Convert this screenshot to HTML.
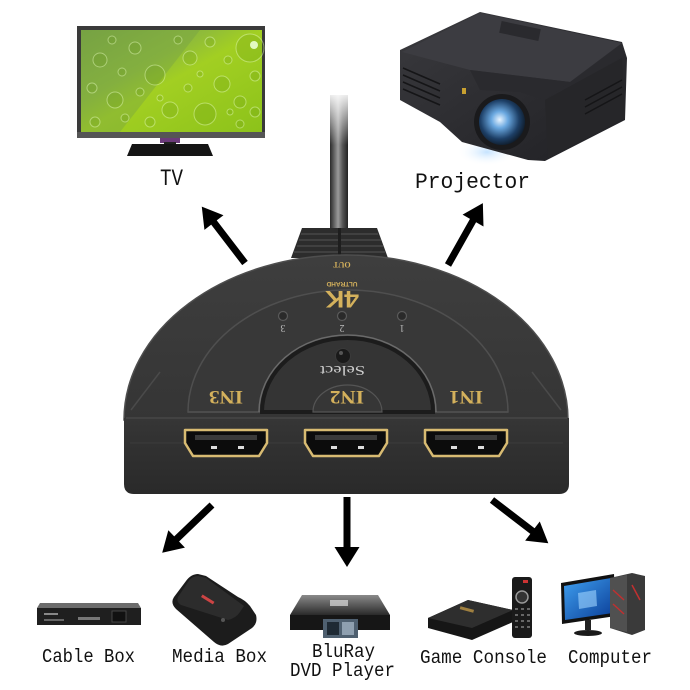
<!DOCTYPE html>
<html><head><meta charset="utf-8"><style>
html,body{margin:0;padding:0;background:#fff;}
svg{display:block;}
.lbl{font-family:"Liberation Mono",monospace;fill:#111;}
.dev{font-family:"Liberation Serif",serif;fill:#d4b15c;}
</style></head><body>
<svg width="690" height="690" viewBox="0 0 690 690" xmlns="http://www.w3.org/2000/svg">
<defs>
<linearGradient id="scr" x1="0" y1="0" x2="1" y2="1">
<stop offset="0" stop-color="#7aa640"/><stop offset="0.35" stop-color="#8fbb3a"/><stop offset="0.5" stop-color="#a2cf22"/><stop offset="1" stop-color="#8cc21a"/>
</linearGradient>
<linearGradient id="cab" x1="0" y1="0" x2="1" y2="0">
<stop offset="0" stop-color="#2a2a2a"/><stop offset="0.45" stop-color="#9a9a9a"/><stop offset="0.7" stop-color="#555"/><stop offset="1" stop-color="#222"/>
</linearGradient>
<linearGradient id="fade" x1="0" y1="0" x2="0" y2="1">
<stop offset="0" stop-color="#fff" stop-opacity="1"/><stop offset="1" stop-color="#fff" stop-opacity="0"/>
</linearGradient>
<linearGradient id="dome" x1="0" y1="0" x2="0" y2="1">
<stop offset="0" stop-color="#3e3e3e"/><stop offset="1" stop-color="#353535"/>
</linearGradient>
<linearGradient id="front" x1="0" y1="0" x2="0" y2="1">
<stop offset="0" stop-color="#363636"/><stop offset="0.35" stop-color="#313131"/><stop offset="1" stop-color="#2a2a2a"/>
</linearGradient>
<radialGradient id="lens" cx="0.45" cy="0.45" r="0.6">
<stop offset="0" stop-color="#e8f4ff"/><stop offset="0.3" stop-color="#6aa8e0"/><stop offset="0.7" stop-color="#1d3f66"/><stop offset="1" stop-color="#0d1620"/>
</radialGradient>
<radialGradient id="glow" cx="0.5" cy="0.5" r="0.5">
<stop offset="0" stop-color="#bfe0ff" stop-opacity="0.9"/><stop offset="1" stop-color="#fff" stop-opacity="0"/>
</radialGradient>
<linearGradient id="proj" x1="0" y1="0" x2="1" y2="1">
<stop offset="0" stop-color="#3a3a3e"/><stop offset="1" stop-color="#202024"/>
</linearGradient>
<linearGradient id="blu" x1="0" y1="0" x2="0" y2="1">
<stop offset="0" stop-color="#8a8a8a"/><stop offset="1" stop-color="#2a2a2a"/>
</linearGradient>
<linearGradient id="win" x1="0" y1="0" x2="1" y2="1">
<stop offset="0" stop-color="#3fa0f0"/><stop offset="1" stop-color="#0a3c96"/>
</linearGradient>
</defs>

<!-- TV -->
<rect x="77" y="26" width="188" height="112" fill="#3a3a3a"/>
<rect x="81" y="30" width="181" height="102" fill="url(#scr)"/>
<polygon points="81,30 200,30 120,132 81,132" fill="#6f9a4a" opacity="0.35"/>
<g fill="#5f8f10" fill-opacity="0.18" stroke="#e8ffc0" stroke-opacity="0.45" stroke-width="1">
<circle cx="250" cy="48" r="14"/><circle cx="155" cy="75" r="10"/><circle cx="205" cy="114" r="11"/>
<circle cx="170" cy="110" r="8"/><circle cx="222" cy="84" r="8"/><circle cx="100" cy="60" r="7"/>
<circle cx="135" cy="48" r="6"/><circle cx="240" cy="102" r="6"/><circle cx="190" cy="58" r="7"/>
<circle cx="115" cy="100" r="8"/><circle cx="95" cy="122" r="5"/><circle cx="255" cy="76" r="5"/>
<circle cx="140" cy="92" r="4"/><circle cx="178" cy="40" r="4"/><circle cx="210" cy="42" r="5"/>
<circle cx="228" cy="60" r="4"/><circle cx="92" cy="88" r="5"/><circle cx="125" cy="118" r="4"/>
<circle cx="150" cy="122" r="5"/><circle cx="188" cy="88" r="4"/><circle cx="240" cy="124" r="4"/>
<circle cx="112" cy="40" r="4"/><circle cx="160" cy="98" r="3"/><circle cx="200" cy="74" r="3"/>
<circle cx="230" cy="112" r="3"/><circle cx="122" cy="72" r="4"/><circle cx="255" cy="112" r="5"/>
</g>
<circle cx="254" cy="45" r="4" fill="#eaffd0" opacity="0.9"/>
<rect x="77" y="132" width="188" height="6" fill="#555"/>
<rect x="160" y="138" width="20" height="5" fill="#6b3a7a"/>
<rect x="164" y="142" width="12" height="4" fill="#222"/>
<polygon points="132,144 208,144 213,156 127,156" fill="#151515"/>

<!-- Projector -->
<ellipse cx="487" cy="152" rx="30" ry="14" fill="url(#glow)"/>
<polygon points="400,50 480,12 622,42 627,58 625,120 545,161 528,160 462,142 440,122 400,100" fill="url(#proj)"/>
<polygon points="402,52 480,13 622,43 570,82 470,70" fill="#3c3c41"/>
<polygon points="470,70 570,82 545,100 520,92 480,90" fill="#2a2a2e"/>
<polygon points="545,100 622,58 625,118 548,158" fill="#262629"/>
<g stroke="#151517" stroke-width="1.5">
<line x1="403" y1="68" x2="440" y2="84"/><line x1="403" y1="75" x2="440" y2="91"/><line x1="403" y1="82" x2="440" y2="98"/><line x1="403" y1="89" x2="440" y2="105"/>
<line x1="585" y1="100" x2="622" y2="80"/><line x1="585" y1="107" x2="622" y2="87"/><line x1="585" y1="114" x2="622" y2="94"/>
</g>
<rect x="500" y="25" width="40" height="12" fill="#2a2a2e" transform="rotate(12 520 31)"/>
<circle cx="502" cy="122" r="28" fill="#1a1a1c"/>
<circle cx="502" cy="122" r="23" fill="url(#lens)"/>
<rect x="462" y="88" width="4" height="6" fill="#c8a030"/>

<!-- Cable -->
<rect x="330" y="95" width="18" height="140" fill="url(#cab)"/>
<rect x="328" y="90" width="22" height="55" fill="url(#fade)"/>
<polygon points="302,228 377,228 388,258 291,258" fill="#2c2c2c"/>
<g stroke="#474747" stroke-width="1.6">
<line x1="301" y1="234" x2="378" y2="234"/><line x1="299" y1="240" x2="381" y2="240"/><line x1="297" y1="246" x2="383" y2="246"/><line x1="294" y1="252" x2="385" y2="252"/>
</g>
<line x1="339.5" y1="228" x2="339.5" y2="258" stroke="#1e1e1e" stroke-width="3"/>

<!-- Switch body -->
<path d="M124,420 A222,165 0 0 1 568,420 Z" fill="url(#dome)" stroke="#4e4e4e" stroke-width="1.5"/>
<path d="M188,412 A160,122 0 0 1 508,412 Z" fill="#383838" stroke="#4f4f4f" stroke-width="1.5"/>
<line x1="188" y1="412" x2="508" y2="412" stroke="#505050" stroke-width="1.5"/>
<path d="M259,412 A88.5,77 0 0 1 436,412" fill="none" stroke="#6a6a6a" stroke-width="1.5"/>
<path d="M262,412 A85.5,74 0 0 1 433,412 Z" fill="#343434" stroke="#1c1c1c" stroke-width="4"/>
<path d="M313,412 A34.5,27 0 0 1 382,412 Z" fill="#363636" stroke="#555" stroke-width="1.2"/>
<path d="M124,418 H569 V484 Q569,494 559,494 H134 Q124,494 124,484 Z" fill="url(#front)"/>
<line x1="126" y1="418" x2="567" y2="418" stroke="#4a4a4a" stroke-width="1.2"/>
<line x1="130" y1="443" x2="563" y2="443" stroke="#3c3c3c" stroke-width="1"/>
<line x1="131" y1="410" x2="160" y2="372" stroke="#4a4a4a" stroke-width="1.5"/>
<line x1="561" y1="410" x2="532" y2="372" stroke="#4a4a4a" stroke-width="1.5"/>

<!-- device text (rotated 180) -->
<g class="dev">
<text transform="translate(342,262) rotate(180)" font-size="8" text-anchor="middle" font-weight="bold">OUT</text>
<text transform="translate(342,282) rotate(180)" x="-15.5" font-size="6" font-family="Liberation Sans,sans-serif" font-weight="bold" textLength="31" lengthAdjust="spacingAndGlyphs">ULTRAHD</text>
<text transform="translate(342,291) rotate(180)" x="-17" font-size="24" font-family="Liberation Sans,sans-serif" font-weight="bold" textLength="34" lengthAdjust="spacingAndGlyphs">4K</text>
<text transform="translate(226,391) rotate(180)" x="-17" font-size="19" font-weight="bold" textLength="34" lengthAdjust="spacingAndGlyphs">IN3</text>
<text transform="translate(347,391) rotate(180)" x="-17" font-size="19" font-weight="bold" textLength="34" lengthAdjust="spacingAndGlyphs">IN2</text>
<text transform="translate(466,391) rotate(180)" x="-17" font-size="19" font-weight="bold" textLength="34" lengthAdjust="spacingAndGlyphs">IN1</text>
</g>
<g font-family="Liberation Serif,serif" fill="#bdbdbd" text-anchor="middle">
<text transform="translate(283,325) rotate(180)" font-size="10">3</text>
<text transform="translate(342,325) rotate(180)" font-size="10">2</text>
<text transform="translate(402,325) rotate(180)" font-size="10">1</text>
<text transform="translate(343,366) rotate(180)" x="-22" text-anchor="start" font-size="14" textLength="45" lengthAdjust="spacingAndGlyphs" fill="#cfcfcf">Select</text>
</g>
<g fill="#2a2a2a" stroke="#5a5a5a" stroke-width="1.2">
<circle cx="283" cy="316" r="4.5"/><circle cx="342" cy="316" r="4.5"/><circle cx="402" cy="316" r="4.5"/>
</g>
<circle cx="343" cy="356" r="7.5" fill="#1a1a1a" stroke="#3a3a3a"/>
<circle cx="341" cy="353" r="2" fill="#555"/>

<!-- HDMI ports -->
<path d="M185,430 H267 V443 L259,456 H193 L185,443 Z" fill="#0c0c0c" stroke="#d8bb72" stroke-width="2.5" stroke-linejoin="round"/>
<rect x="195" y="435" width="62" height="5" fill="#3a3a3a"/>
<rect x="211" y="446" width="6" height="3" fill="#ddd"/><rect x="238" y="446" width="6" height="3" fill="#ddd"/>
<path d="M305,430 H387 V443 L379,456 H313 L305,443 Z" fill="#0c0c0c" stroke="#d8bb72" stroke-width="2.5" stroke-linejoin="round"/>
<rect x="315" y="435" width="62" height="5" fill="#3a3a3a"/>
<rect x="331" y="446" width="6" height="3" fill="#ddd"/><rect x="358" y="446" width="6" height="3" fill="#ddd"/>
<path d="M425,430 H507 V443 L499,456 H433 L425,443 Z" fill="#0c0c0c" stroke="#d8bb72" stroke-width="2.5" stroke-linejoin="round"/>
<rect x="435" y="435" width="62" height="5" fill="#3a3a3a"/>
<rect x="451" y="446" width="6" height="3" fill="#ddd"/><rect x="478" y="446" width="6" height="3" fill="#ddd"/>

<!-- Arrows -->
<g fill="#000">
<path transform="translate(245,263) rotate(-127.5)" d="M0,-3.5 H51 V-12 L71,0 L51,12 V3.5 H0 Z"/>
<path transform="translate(448,265) rotate(-60.6)" d="M0,-3.5 H51 V-12 L71,0 L51,12 V3.5 H0 Z"/>
<path transform="translate(212,505) rotate(136.2)" d="M0,-3.5 H49 V-12 L69,0 L49,12 V3.5 H0 Z"/>
<path transform="translate(347,497) rotate(90)" d="M0,-3.5 H50 V-12.5 L70,0 L50,12.5 V3.5 H0 Z"/>
<path transform="translate(492,500) rotate(37.5)" d="M0,-3.5 H51 V-12 L71,0 L51,12 V3.5 H0 Z"/>
</g>

<!-- Cable box -->
<polygon points="40,603 138,603 141,608 37,608" fill="#6c6c6c"/>
<rect x="37" y="608" width="104" height="17" fill="#1f1f1f"/>
<rect x="44" y="613" width="14" height="2" fill="#888"/><rect x="44" y="619" width="20" height="2" fill="#666"/>
<rect x="78" y="617" width="22" height="3" fill="#777"/><rect x="112" y="611" width="14" height="11" fill="#111" stroke="#444"/>

<!-- Media box -->
<path d="M198,574 Q191,574 186,581 L174,597 Q170,603 176,609 L214,642 Q221,648 228,644 L252,628 Q258,623 256,615 L250,606 Q245,600 238,597 L206,576 Z" fill="#1c1c1c"/>
<path d="M198,576 Q192,576 188,582 L178,597 Q176,602 181,605 L228,620 Q236,618 240,612 L244,606 L206,578 Z" fill="#2c2c2c"/>
<rect x="201" y="598" width="14" height="3" fill="#c44" transform="rotate(32 208 599)"/>
<circle cx="223" cy="620" r="2" fill="#555"/>

<!-- BluRay player -->
<polygon points="302,595 378,595 390,615 290,615" fill="url(#blu)"/>
<rect x="290" y="615" width="100" height="15" fill="#161616"/>
<rect x="330" y="600" width="18" height="6" fill="#ddd" opacity="0.7"/>
<rect x="323" y="619" width="35" height="19" fill="#4f6070"/>
<rect x="327" y="622" width="12" height="13" fill="#1f2a34"/><rect x="342" y="622" width="12" height="13" fill="#8fa0b0"/>

<!-- Game console + remote -->
<polygon points="428,618 468,600 513,610 513,622 472,640 428,628" fill="#161616"/>
<polygon points="428,618 468,600 513,610 472,628" fill="#2e2e2e"/>
<rect x="460" y="608" width="14" height="3" fill="#a08040" transform="rotate(15 467 609)"/>
<rect x="512" y="577" width="20" height="61" rx="3" fill="#1a1a1a"/>
<rect x="523" y="580" width="5" height="3" fill="#c33"/>
<circle cx="522" cy="597" r="6" fill="#333" stroke="#999" stroke-width="1.5"/>
<g fill="#666"><rect x="515" y="608" width="3" height="2"/><rect x="521" y="608" width="3" height="2"/><rect x="527" y="608" width="3" height="2"/>
<rect x="515" y="614" width="3" height="2"/><rect x="521" y="614" width="3" height="2"/><rect x="527" y="614" width="3" height="2"/>
<rect x="515" y="620" width="3" height="2"/><rect x="521" y="620" width="3" height="2"/><rect x="527" y="620" width="3" height="2"/>
<rect x="515" y="626" width="3" height="2"/><rect x="521" y="626" width="3" height="2"/><rect x="527" y="626" width="3" height="2"/></g>

<!-- Computer -->
<polygon points="561,583 614,574 616,616 562,624" fill="#111"/>
<polygon points="564,586 611,578 613,613 565,620" fill="url(#win)"/>
<polygon points="578,593 596,590 597,606 579,609" fill="#9fd4ff" opacity="0.6"/>
<rect x="585" y="620" width="6" height="10" fill="#222"/>
<ellipse cx="588" cy="633" rx="14" ry="3" fill="#1a1a1a"/>
<polygon points="610,578 632,573 645,576 645,630 632,635 610,628" fill="#3a3a3a"/>
<polygon points="610,578 627,575 627,632 610,628" fill="#505050"/>
<g stroke="#c03030" stroke-width="1.5"><line x1="613" y1="590" x2="624" y2="600"/><line x1="613" y1="604" x2="624" y2="614"/><line x1="632" y1="585" x2="640" y2="600"/></g>

<!-- Labels -->
<text class="lbl" x="160" y="185" font-size="23" textLength="23" lengthAdjust="spacingAndGlyphs">TV</text>
<text class="lbl" x="415" y="188" font-size="22" textLength="115" lengthAdjust="spacingAndGlyphs">Projector</text>
<text class="lbl" x="42" y="662" font-size="19" textLength="93" lengthAdjust="spacingAndGlyphs">Cable Box</text>
<text class="lbl" x="172" y="662" font-size="19" textLength="95" lengthAdjust="spacingAndGlyphs">Media Box</text>
<text class="lbl" x="312" y="657" font-size="19" textLength="63" lengthAdjust="spacingAndGlyphs">BluRay</text>
<text class="lbl" x="290" y="676" font-size="19" textLength="105" lengthAdjust="spacingAndGlyphs">DVD Player</text>
<text class="lbl" x="420" y="663" font-size="19" textLength="127" lengthAdjust="spacingAndGlyphs">Game Console</text>
<text class="lbl" x="568" y="663" font-size="19" textLength="84" lengthAdjust="spacingAndGlyphs">Computer</text>
</svg>
</body></html>
